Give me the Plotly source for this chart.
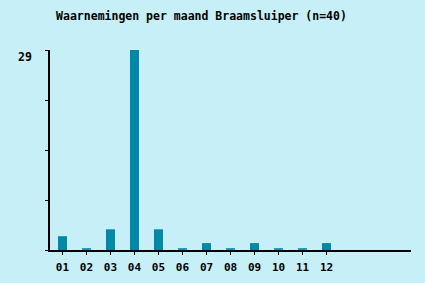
import plotly.graph_objects as go

months = ["01", "02", "03", "04", "05", "06", "07", "08", "09", "10", "11", "12"]
counts = [2, 0, 3, 29, 3, 0, 1, 0, 1, 0, 0, 1]
title_text = "Waarnemingen per maand Braamsluiper (n=40)"
y_max = 29

BG = "#c6eff7"
BAR = "#0088a8"
STUB = "#1a9cba"

xpos = list(range(1, len(months) + 1))
nonzero_x = [x for x, c in zip(xpos, counts) if c > 0]
nonzero_y = [c for c in counts if c > 0]
zero_x = [x for x, c in zip(xpos, counts) if c == 0]

fig = go.Figure()
fig.add_trace(go.Bar(x=nonzero_x, y=nonzero_y, width=0.375,
                     marker=dict(color=BAR, line=dict(width=0)), hoverinfo="skip"))
# zero months drawn as a thin stub on the baseline
fig.add_trace(go.Bar(x=zero_x, y=[y_max * 0.007] * len(zero_x), width=0.375,
                     marker=dict(color=STUB, line=dict(width=0)), hoverinfo="skip"))

fig.update_layout(
    width=425, height=283,
    margin=dict(l=50, r=14, t=50, b=33, autoexpand=False),
    paper_bgcolor=BG, plot_bgcolor=BG,
    showlegend=False, barmode="overlay",
    title=dict(text="<b>" + title_text + "</b>", x=201.5 / 425, xanchor="center",
               xref="container", y=1 - 16 / 283, yanchor="middle", yref="container",
               font=dict(family="DejaVu Sans Mono", size=11.5, color="#000")),
    font=dict(family="DejaVu Sans Mono", size=11, color="#000"),
    annotations=[dict(text="<b>" + str(y_max) + "</b>", xref="paper", x=0, xanchor="right",
                      xshift=-16, yref="y", y=y_max, yanchor="middle", yshift=-7,
                      showarrow=False, font=dict(family="DejaVu Sans Mono", size=11.5, color="#000"))],
)
fig.update_xaxes(
    range=[0.48, 15.52], tickvals=xpos, ticktext=["<b>" + m + "</b>" for m in months],
    ticks="outside", ticklen=3, tickcolor="#000", tickwidth=1,
    showline=True, linecolor="#000", linewidth=1.5, automargin=False,
    showgrid=False, zeroline=False, ticklabelstandoff=3,
)
yticks = [0, y_max * 0.25, y_max * 0.5, y_max * 0.75, y_max]
fig.update_yaxes(
    range=[0, y_max], tickvals=yticks, showticklabels=False,
    ticks="outside", ticklen=3, tickcolor="#000", tickwidth=1,
    showline=True, linecolor="#000", linewidth=1.5, automargin=False,
    showgrid=False, zeroline=False,
)
fig.write_html("out.html")
